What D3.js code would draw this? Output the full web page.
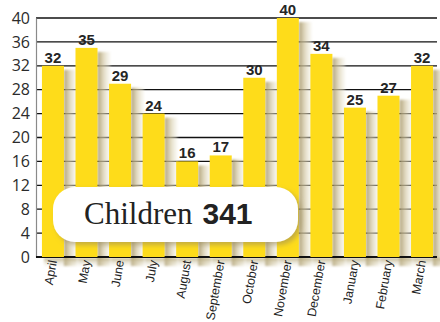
<!DOCTYPE html>
<html>
<head>
<meta charset="utf-8">
<script src="https://cdn.jsdelivr.net/npm/d3@7"></script>
<style>
  html, body { margin: 0; padding: 0; background: #fff; }
  svg { display: block; }
</style>
</head>
<body>
<svg id="chart" width="440" height="322"></svg>
<script>
// Monthly counts of children, April to March
const months = ["April", "May", "June", "July", "August", "September",
                "October", "November", "December", "January", "February", "March"];
const children = [32, 35, 29, 24, 16, 17, 30, 40, 34, 25, 27, 32];
const yTicks = [0, 4, 8, 12, 16, 20, 24, 28, 32, 36, 40];
const totalLabel = "Children";

const svg = d3.select("#chart");
const plotLeft = 36, plotRight = 437, plotTop = 18, plotBottom = 257;

const x = d3.scaleBand().domain(months).range([plotLeft, 439])
  .paddingInner(0.344).paddingOuter(0.177);
const y = d3.scaleLinear().domain([0, 40]).range([plotBottom, plotTop]);

const defs = svg.append("defs");
const grad = defs.append("linearGradient").attr("id", "sideShade")
  .attr("x1", 0).attr("x2", 1).attr("y1", 0).attr("y2", 0);
grad.append("stop").attr("offset", 0).attr("stop-color", "#a69668").attr("stop-opacity", 0.9);
grad.append("stop").attr("offset", 0.45).attr("stop-color", "#d3c8a4").attr("stop-opacity", 0.7);
grad.append("stop").attr("offset", 1).attr("stop-color", "#f3f0e4").attr("stop-opacity", 0.35);

const gradB = defs.append("linearGradient").attr("id", "footShade")
  .attr("x1", 0).attr("x2", 0).attr("y1", 0).attr("y2", 1);
gradB.append("stop").attr("offset", 0).attr("stop-color", "#b3a576").attr("stop-opacity", 0.8);
gradB.append("stop").attr("offset", 1).attr("stop-color", "#f3f0e4").attr("stop-opacity", 0);

defs.append("filter").attr("id", "soft")
  .attr("x", "-50%").attr("y", "-20%").attr("width", "200%").attr("height", "140%")
  .append("feGaussianBlur").attr("stdDeviation", 1.3);

const boxShadow = defs.append("filter").attr("id", "boxShadow")
  .attr("x", "-20%").attr("y", "-30%").attr("width", "140%").attr("height", "170%");
boxShadow.append("feDropShadow").attr("dx", 3).attr("dy", 3).attr("stdDeviation", 2.5)
  .attr("flood-color", "#9c8c58").attr("flood-opacity", 0.6);

// horizontal grid
svg.append("g").selectAll("line").data(yTicks.filter(t => t > 0)).join("line")
  .attr("x1", plotLeft).attr("x2", plotRight)
  .attr("y1", d => y(d)).attr("y2", d => y(d))
  .attr("stroke", "#111").attr("stroke-width", 1.3);

// y axis
const yAxis = d3.axisLeft(y).tickValues(yTicks).tickSize(0).tickPadding(6);
const gy = svg.append("g").attr("transform", `translate(${plotLeft},0)`).call(yAxis);
gy.select(".domain").attr("stroke", "#8a8a8a").attr("stroke-width", 1.2);
gy.selectAll("text")
  .attr("font-family", "'Open Sans', 'Noto Sans', sans-serif")
  .attr("font-size", 16).attr("fill", "#2b2b2b");

// soft shading beside and beneath each bar
const shade = svg.append("g").attr("filter", "url(#soft)");
shade.selectAll("rect.side").data(children).join("rect").attr("class", "side")
  .attr("x", (d, i) => x(months[i]) + x.bandwidth())
  .attr("y", d => y(d) + 4)
  .attr("width", 13)
  .attr("height", d => plotBottom - y(d) + 5)
  .attr("fill", "url(#sideShade)");
shade.selectAll("rect.foot").data(children).join("rect").attr("class", "foot")
  .attr("x", (d, i) => x(months[i]) + 2)
  .attr("y", plotBottom + 1)
  .attr("width", x.bandwidth() + 11)
  .attr("height", 10)
  .attr("fill", "url(#footShade)");

// baseline
svg.append("line").attr("x1", plotLeft).attr("x2", plotRight)
  .attr("y1", y(0)).attr("y2", y(0))
  .attr("stroke", "#111").attr("stroke-width", 2);

// bars
svg.append("g").selectAll("rect").data(children).join("rect")
  .attr("x", (d, i) => x(months[i]))
  .attr("y", d => y(d))
  .attr("width", x.bandwidth())
  .attr("height", d => y(0) - y(d))
  .attr("fill", "#fedc1a");

// value labels
svg.append("g").selectAll("text").data(children).join("text")
  .attr("x", (d, i) => x(months[i]) + x.bandwidth() / 2)
  .attr("y", d => y(d) - 3)
  .attr("text-anchor", "middle")
  .attr("font-family", "'Liberation Sans', Arial, sans-serif")
  .attr("font-weight", "bold")
  .attr("font-size", 15)
  .attr("fill", "#252525")
  .text(d => d);

// month labels
svg.append("g").selectAll("text").data(months).join("text")
  .attr("transform", d => `translate(${x(d) + x.bandwidth() / 2 + 4},261) rotate(-80)`)
  .attr("text-anchor", "end")
  .attr("font-family", "'Liberation Sans', Arial, sans-serif")
  .attr("font-size", 12.4)
  .attr("fill", "#222")
  .text(d => d);

// total badge
const badge = svg.append("g");
badge.append("rect")
  .attr("x", 53).attr("y", 187).attr("width", 245).attr("height", 55)
  .attr("rx", 22).attr("ry", 22)
  .attr("fill", "#fff")
  .attr("filter", "url(#boxShadow)");
const t = badge.append("text").attr("x", 84).attr("y", 224).attr("fill", "#222");
t.append("tspan")
  .attr("font-family", "'Liberation Serif', 'Times New Roman', serif")
  .attr("font-size", 31)
  .text(totalLabel);
t.append("tspan")
  .attr("dx", 10)
  .attr("font-family", "'Liberation Sans', Arial, sans-serif")
  .attr("font-weight", "bold")
  .attr("font-size", 30)
  .text(d3.sum(children));
</script>
</body>
</html>
